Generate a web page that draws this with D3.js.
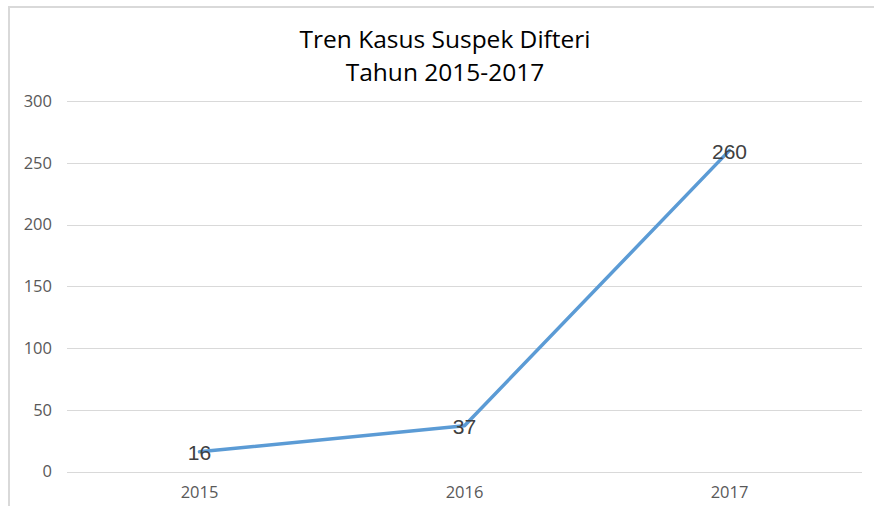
<!DOCTYPE html>
<html>
<head>
<meta charset="utf-8">
<script src="https://cdn.jsdelivr.net/npm/d3@7"></script>
<style>
  body { margin: 0; background: #fff; }
  svg { display: block; }
</style>
</head>
<body>
<div id="chart"></div>
<script>
// chart data
var years = ['2015', '2016', '2017'];
var cases = [16, 37, 260];
var yTicks = [0, 50, 100, 150, 200, 250, 300];
var titleLines = ['Tren Kasus Suspek Difteri', 'Tahun 2015-2017'];

var width = 874, height = 506;
var margin = { top: 101, right: 12, bottom: 34, left: 67 };

var svg = d3.select('#chart').append('svg')
    .attr('width', width)
    .attr('height', height);

// frame (left + top edges only)
svg.append('line')
    .attr('x1', 8).attr('x2', 874).attr('y1', 7).attr('y2', 7)
    .attr('stroke', '#d9d9d9').attr('stroke-width', 2);
svg.append('line')
    .attr('x1', 9).attr('x2', 9).attr('y1', 7).attr('y2', height)
    .attr('stroke', '#d9d9d9').attr('stroke-width', 2);

var x = d3.scaleBand()
    .domain(years)
    .range([margin.left, width - margin.right]);

var y = d3.scaleLinear()
    .domain([0, 300])
    .range([height - margin.bottom - 0.5, margin.top]);

// gridlines
svg.append('g')
    .selectAll('line')
    .data(yTicks)
    .enter().append('line')
    .attr('x1', margin.left)
    .attr('x2', width - margin.right)
    .attr('y1', function (d) { return Math.round(y(d)) + 0.5; })
    .attr('y2', function (d) { return Math.round(y(d)) + 0.5; })
    .attr('stroke', '#d9d9d9')
    .attr('stroke-width', 1);

// y labels
svg.append('g')
    .selectAll('text')
    .data(yTicks)
    .enter().append('text')
    .attr('x', 52)
    .attr('y', function (d) { return y(d); })
    .attr('dy', '0.35em')
    .attr('text-anchor', 'end')
    .attr('font-family', 'Open Sans, sans-serif')
    .attr('font-size', 16.5)
    .attr('fill', '#595959')
    .text(function (d) { return d; });

// x labels
svg.append('g')
    .selectAll('text')
    .data(years)
    .enter().append('text')
    .attr('x', function (d) { return x(d) + x.bandwidth() / 2; })
    .attr('y', 492)
    .attr('dy', '0.35em')
    .attr('text-anchor', 'middle')
    .attr('font-family', 'Open Sans, sans-serif')
    .attr('font-size', 16.5)
    .attr('fill', '#595959')
    .text(function (d) { return d; });

// line
var line = d3.line()
    .x(function (d, i) { return x(years[i]) + x.bandwidth() / 2; })
    .y(function (d) { return y(d); });

svg.append('path')
    .datum(cases)
    .attr('d', line)
    .attr('fill', 'none')
    .attr('stroke', '#5b9bd5')
    .attr('stroke-width', 3.5)
    .attr('stroke-linecap', 'round')
    .attr('stroke-linejoin', 'round');

// data labels, centred on the points
svg.append('g')
    .selectAll('text')
    .data(cases)
    .enter().append('text')
    .attr('x', function (d, i) { return x(years[i]) + x.bandwidth() / 2; })
    .attr('y', function (d) { return y(d) + 1; })
    .attr('dy', '0.35em')
    .attr('text-anchor', 'middle')
    .attr('font-family', 'Liberation Sans, Arial, sans-serif')
    .attr('font-size', 21)
    .attr('fill', '#404040')
    .text(function (d) { return d; });

// title
svg.append('g')
    .selectAll('text')
    .data(titleLines)
    .enter().append('text')
    .attr('x', 445)
    .attr('y', function (d, i) { return 48 + i * 33; })
    .attr('text-anchor', 'middle')
    .attr('font-family', 'Open Sans, sans-serif')
    .attr('font-size', 24.5)
    .attr('fill', '#000')
    .text(function (d) { return d; });
</script>
</body>
</html>
